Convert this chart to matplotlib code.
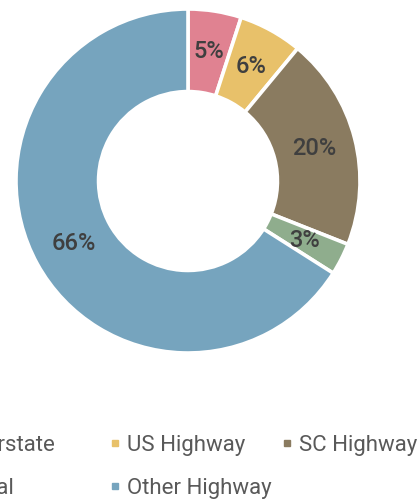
import matplotlib
matplotlib.use('Agg')
import matplotlib.pyplot as plt
from matplotlib.lines import Line2D

# Доли по типам дорог, %
categories = ['Interstate', 'US Highway', 'SC Highway', 'Local', 'Other Highway']
shares = [5, 6, 20, 3, 66]
colors = ['#E08291', '#E8C16A', '#8A7B60', '#8FAD8D', '#76A4BE']

plt.rcParams['font.family'] = ['Roboto', 'DejaVu Sans']

W, H = 418, 500
fig = plt.figure(figsize=(W / 100, H / 100), dpi=100)

# Кольцевая диаграмма: центр (188, 181) px, радиус 172 px
cx, cy, r = 188, 181, 172
ax = fig.add_axes([(cx - r) / W, (H - cy - r) / H, 2 * r / W, 2 * r / H])
wedges, texts, autotexts = ax.pie(
    shares, colors=colors, startangle=90, counterclock=False,
    radius=1.0, autopct=lambda p: f'{p:.0f}%', pctdistance=0.76,
    wedgeprops=dict(width=0.48, edgecolor='white', linewidth=2.6),
    textprops=dict(fontsize=17, color='#3F3F3F', fontweight='medium'))
ax.set_xlim(-1, 1)
ax.set_ylim(-1, 1)
ax.set_aspect('equal')
ax.axis('off')

# Легенда в три колонки одинаковой ширины (первая уходит за левый край)
handles = [Line2D([], [], marker='s', linestyle='none', color=c,
                  markersize=4.5) for c in colors]
columns = [[0, 3], [1, 4], [2]]
col_x = [-55, 111.7, 283.3]
for idx, x in zip(columns, col_x):
    fig.legend([handles[i] for i in idx], [categories[i] for i in idx],
               loc='upper left', bbox_to_anchor=(x / W, 1 - 435 / H),
               frameon=False, fontsize=16, labelcolor='#595959',
               borderpad=0, borderaxespad=0, handlelength=0.3,
               handletextpad=0.39, labelspacing=0.98)

fig.savefig('out.png', dpi=100)
